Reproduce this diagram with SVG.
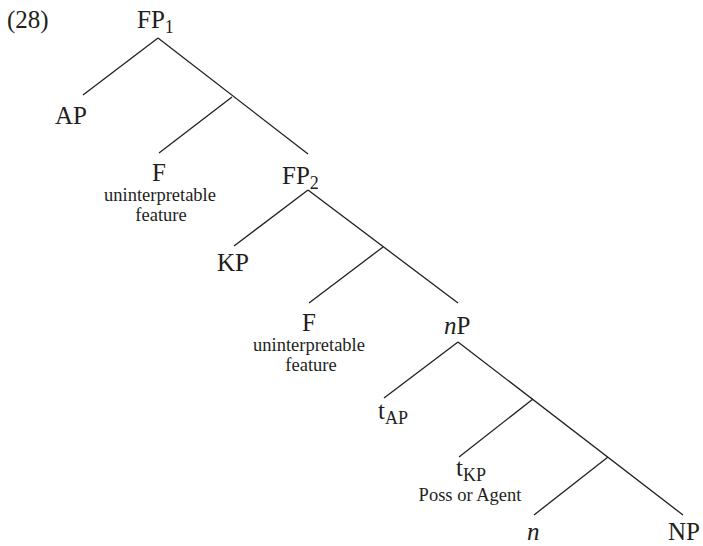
<svg xmlns="http://www.w3.org/2000/svg" width="703" height="546" viewBox="0 0 703 546">
<style>
text{font-family:"Liberation Serif","Times New Roman",serif;fill:#231f20}
.m{font-size:25px}
.s{font-size:18.5px}
.sub{font-size:18px}
.c{text-anchor:middle}
#edges line{stroke:#231f20;stroke-width:1.3;fill:none}
</style>
<rect width="703" height="546" fill="#fff"/>
<g id="edges">
<line x1="158" y1="38" x2="83" y2="95"/>
<line x1="158" y1="38" x2="308" y2="154"/>
<line x1="232" y1="97" x2="159" y2="153"/>
<line x1="308" y1="190" x2="234" y2="246"/>
<line x1="308" y1="190" x2="458" y2="303"/>
<line x1="383" y1="247" x2="309" y2="303"/>
<line x1="458" y1="342" x2="384" y2="398"/>
<line x1="458" y1="342" x2="683" y2="515"/>
<line x1="533" y1="399" x2="459" y2="457"/>
<line x1="608" y1="457" x2="534" y2="515"/>
</g>
<g id="ex"><text class="m" x="7" y="28">(28)</text></g>
<g id="FP1"><text class="m" x="137" y="28">FP<tspan class="sub" dy="5">1</tspan></text></g>
<g id="AP"><text class="m" x="55" y="124">AP</text></g>
<g id="F1"><text class="m c" x="159" y="181">F</text><text class="s c" x="160" y="201">uninterpretable</text><text class="s c" x="161" y="221">feature</text></g>
<g id="FP2"><text class="m" x="282" y="184">FP<tspan class="sub" dy="5">2</tspan></text></g>
<g id="KP"><text class="m" x="217" y="271">KP</text></g>
<g id="F2"><text class="m c" x="309" y="331">F</text><text class="s c" x="309" y="351">uninterpretable</text><text class="s c" x="311" y="371">feature</text></g>
<g id="nP"><text class="m" x="444" y="334"><tspan font-style="italic">n</tspan>P</text></g>
<g id="tAP"><text class="m" x="378" y="419">t<tspan class="sub" dy="5">AP</tspan></text></g>
<g id="tKP"><text class="m c" x="471" y="476">t<tspan class="sub" dy="5">KP</tspan></text><text class="s c" x="470" y="501">Poss or Agent</text></g>
<g id="n"><text class="m" x="527" y="540" font-style="italic">n</text></g>
<g id="NP"><text class="m" x="668" y="540">NP</text></g>
</svg>
